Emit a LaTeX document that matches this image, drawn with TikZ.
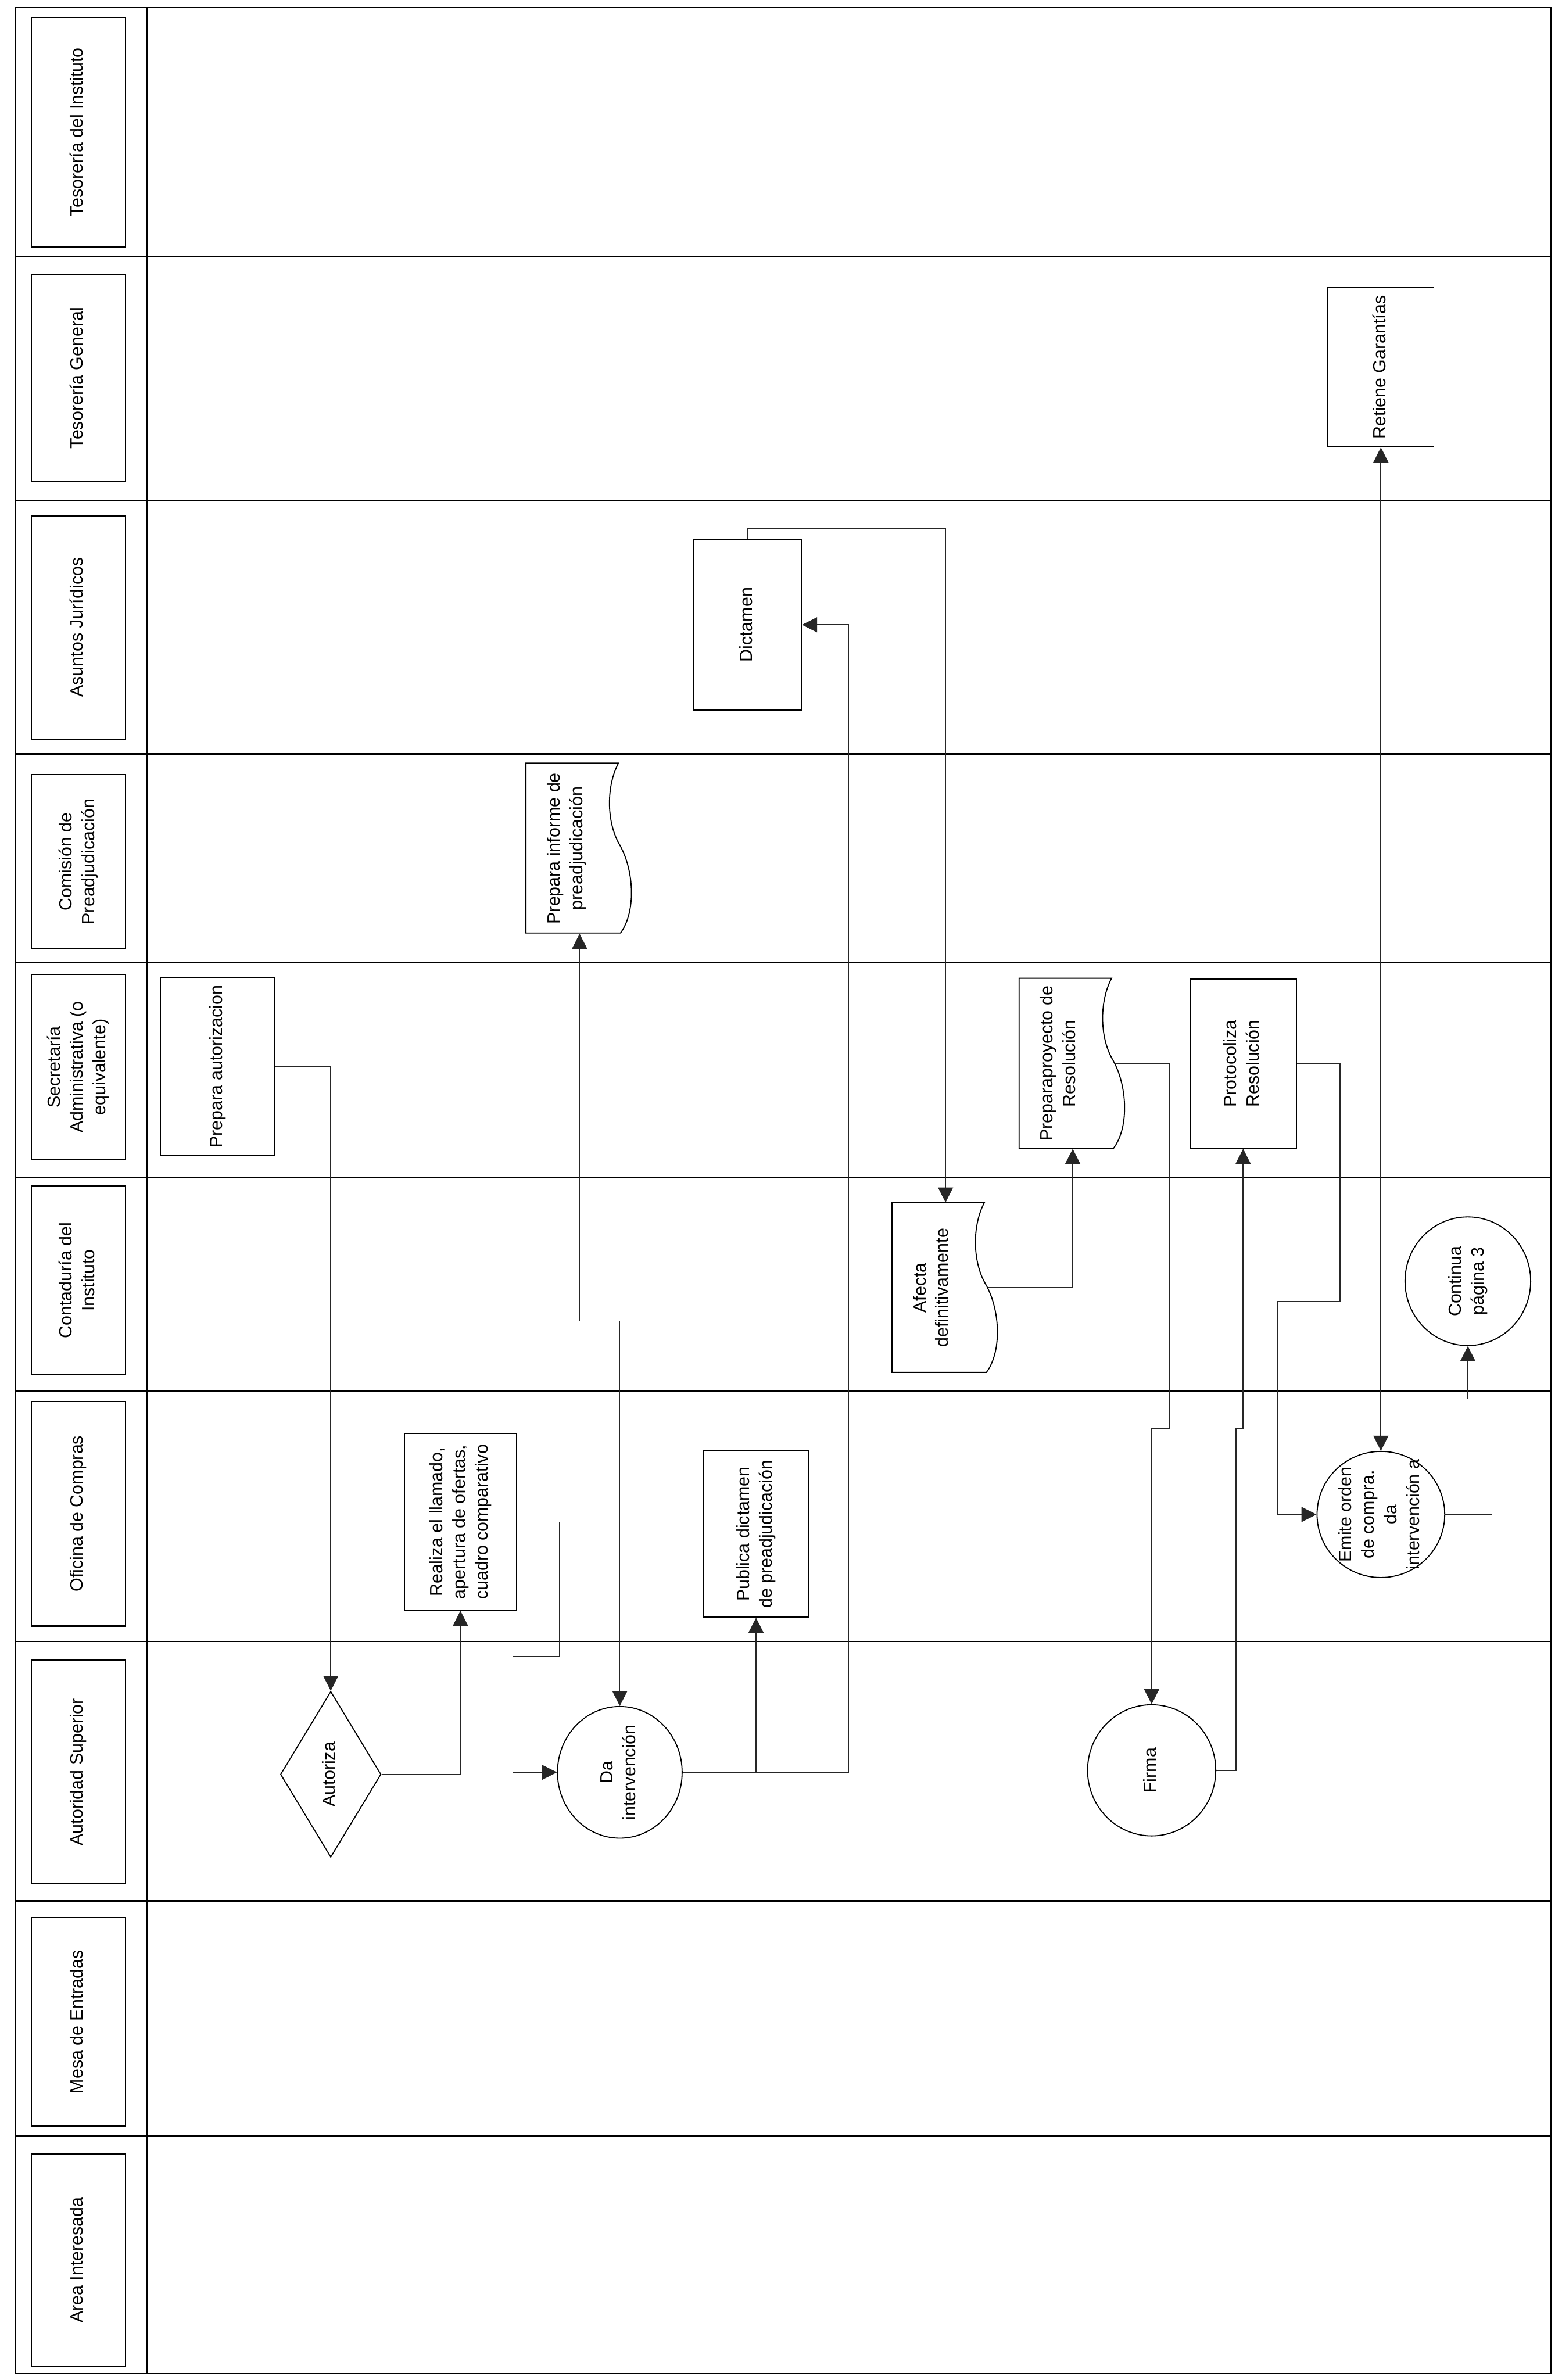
\documentclass[tikz,border=0pt]{standalone}
\usepackage{fontspec}
\setmainfont{Liberation Sans}
\usepackage{graphicx}
\usetikzlibrary{shapes.geometric,arrows.meta}

% rotated (bottom-to-top) multi-line text in a box of zero size
\newcommand\ztext[1]{\makebox[0pt]{\raisebox{-0.5\height}[0pt][0pt]{\rotatebox{90}{\begin{tabular}{@{}c@{}}#1\end{tabular}}}}}

% outline of a document symbol, wavy edge on the right
\newcommand\docoutline[1]{%
  \begin{scope}[shift={(#1.north west)}]
    \draw[shapeline] (0,0) -- (1.84,0)
      .. controls (1.60,-0.45) and (1.60,-1.15) .. (1.85,-1.6)
      .. controls (2.15,-2.1) and (2.2,-2.95) .. (1.88,-3.38)
      -- (0,-3.38) -- cycle;
  \end{scope}}

\tikzset{
  txt/.style={font=\fontsize{10}{12.8}\selectfont, inner sep=0pt},
  lane/.style={line width=0.8pt, black},
  shapeline/.style={line width=0.6pt, black},
  lanelabel/.style={txt, draw, line width=0.7pt, minimum width=1.88cm},
  proc/.style={txt, draw, shapeline, rectangle},
  oval/.style={txt, draw, shapeline, ellipse},
  decision/.style={txt, draw, shapeline, diamond},
  docbox/.style={txt, rectangle, minimum width=2.12cm, minimum height=3.38cm},
  tip/.tip={Triangle[length=0.3cm,width=0.3cm]},
  flow/.style={line width=0.55pt, black!85, -tip},
  twoway/.style={line width=0.55pt, black!85, tip-tip},
}

\begin{document}
\begin{tikzpicture}
\fill[white] (0,0) rectangle (31.07,-47.35);
\useasboundingbox (0,0) rectangle (31.07,-47.35);

% frame, label column and lane separators
\draw[lane] (0.30,-0.15) rectangle (30.85,-47.22);
\draw[lane] (2.92,-0.15) -- (2.92,-47.22);
\foreach \y in {5.10,9.95,15.00,19.15,23.42,27.67,32.66,37.82,42.49}
  \draw[lane] (0.30,-\y) -- (30.85,-\y);

% lane labels
\node[lanelabel, minimum height=4.56cm] (l1)  at (1.56,-2.63)  {\ztext{Tesorería del Instituto}};
\node[lanelabel, minimum height=4.12cm] (l2)  at (1.56,-7.52)  {\ztext{Tesorería General}};
\node[lanelabel, minimum height=4.44cm] (l3)  at (1.56,-12.48) {\ztext{Asuntos Jurídicos}};
\node[lanelabel, minimum height=3.47cm] (l4)  at (1.56,-17.145) {\ztext{Comisión de\\Preadjudicación}};
\node[lanelabel, minimum height=3.68cm] (l5)  at (1.56,-21.23) {\ztext{Secretaría\\Administrativa (o\\equivalente)}};
\node[lanelabel, minimum height=3.75cm] (l6)  at (1.56,-25.475) {\ztext{Contaduría del\\Instituto}};
\node[lanelabel, minimum height=4.47cm] (l7)  at (1.56,-30.115) {\ztext{Oficina de Compras}};
\node[lanelabel, minimum height=4.45cm] (l8)  at (1.56,-35.255) {\ztext{Autoridad Superior}};
\node[lanelabel, minimum height=4.15cm] (l9)  at (1.56,-40.225) {\ztext{Mesa de Entradas}};
\node[lanelabel, minimum height=4.23cm] (l10) at (1.56,-44.965) {\ztext{Area Interesada}};

% process steps
\node[proc, minimum width=2.28cm, minimum height=3.55cm] (prepAut) at (4.33,-21.22) {\ztext{Prepara autorizacion}};
\node[decision, minimum width=2.0cm, minimum height=3.3cm] (autoriza) at (6.58,-35.30) {\ztext{Autoriza}};
\node[proc, minimum width=2.22cm, minimum height=3.51cm] (realiza) at (9.16,-30.28) {\ztext{Realiza el llamado,\\apertura de ofertas,\\cuadro comparativo}};
\node[oval, minimum width=2.48cm, minimum height=2.62cm] (daInt) at (12.33,-35.26) {\ztext{Da\\intervención}};
\node[proc, minimum width=2.10cm, minimum height=3.31cm] (publica) at (15.04,-30.52) {\ztext{Publica dictamen\\de preadjudicación}};
\node[proc, minimum width=2.15cm, minimum height=3.40cm] (dictamen) at (14.87,-12.43) {\ztext{Dictamen}};
\node[oval, minimum width=2.55cm, minimum height=2.61cm] (firma) at (22.91,-35.22) {\ztext{Firma}};
\node[proc, minimum width=2.12cm, minimum height=3.37cm] (protocoliza) at (24.73,-21.16) {\ztext{Protocoliza\\Resolución}};
\node[oval, minimum width=2.54cm, minimum height=2.51cm] (emite) at (27.47,-30.13) {\ztext{Emite orden\\de compra.\\da\\intervención a}};
\node[proc, minimum width=2.11cm, minimum height=3.17cm] (retiene) at (27.47,-7.305) {\ztext{Retiene Garantías}};
\node[oval, minimum width=2.50cm, minimum height=2.56cm] (continua) at (29.20,-25.49) {\ztext{Continua\\página 3}};

% document steps
\node[docbox] (informe) at (11.53,-16.88) {};
\docoutline{informe}
\node[txt] (informe-t) at (11.27,-16.88) {\ztext{Prepara informe de\\preadjudicación}};

\node[docbox] (afecta) at (18.81,-25.62) {};
\docoutline{afecta}
\node[txt] (afecta-t) at (18.55,-25.62) {\ztext{Afecta\\definitivamente}};

\node[docbox] (preparaproy) at (21.34,-21.16) {};
\docoutline{preparaproy}
\node[txt] (preparaproy-t) at (21.08,-21.16) {\ztext{Preparaproyecto de\\Resolución}};

% connectors
\coordinate (c1) at (11.53,-26.28);
\coordinate (c2) at (16.88,-12.43);

\draw[flow] (prepAut.east) -| (autoriza.north);
\draw[flow] (autoriza.east) -| (realiza.south);
\draw[flow] (realiza.east) -- (11.13,-30.28) -- (11.13,-32.96) -- (10.20,-32.96) |- (daInt.west);
\draw[twoway] (daInt.north) |- (c1) -- (informe.south);
\draw[flow] (daInt.east) -| (publica.south);
\draw[flow] (daInt.east) -| (c2) -- (dictamen.east);
\draw[flow] (dictamen.north) -- ++(0,0.2) -| (afecta.north);
\draw[flow] ([xshift=-0.22cm]afecta.east) -| (preparaproy.south);
\draw[flow] ([xshift=-0.22cm]preparaproy.east) -- (23.27,-21.16) -- (23.27,-28.42) -| (firma.north);
\draw[flow] (firma.east) -- (24.59,-35.22) -- (24.59,-28.42) -| (protocoliza.south);
\draw[flow] (protocoliza.east) -- (26.66,-21.16) -- (26.66,-25.89) -- (25.42,-25.89) |- (emite.west);
\draw[twoway] (emite.north) -- (retiene.south);
\draw[flow] (emite.east) -- (29.68,-30.13) -- (29.68,-27.83) -| (continua.south);
\end{tikzpicture}
\end{document}
